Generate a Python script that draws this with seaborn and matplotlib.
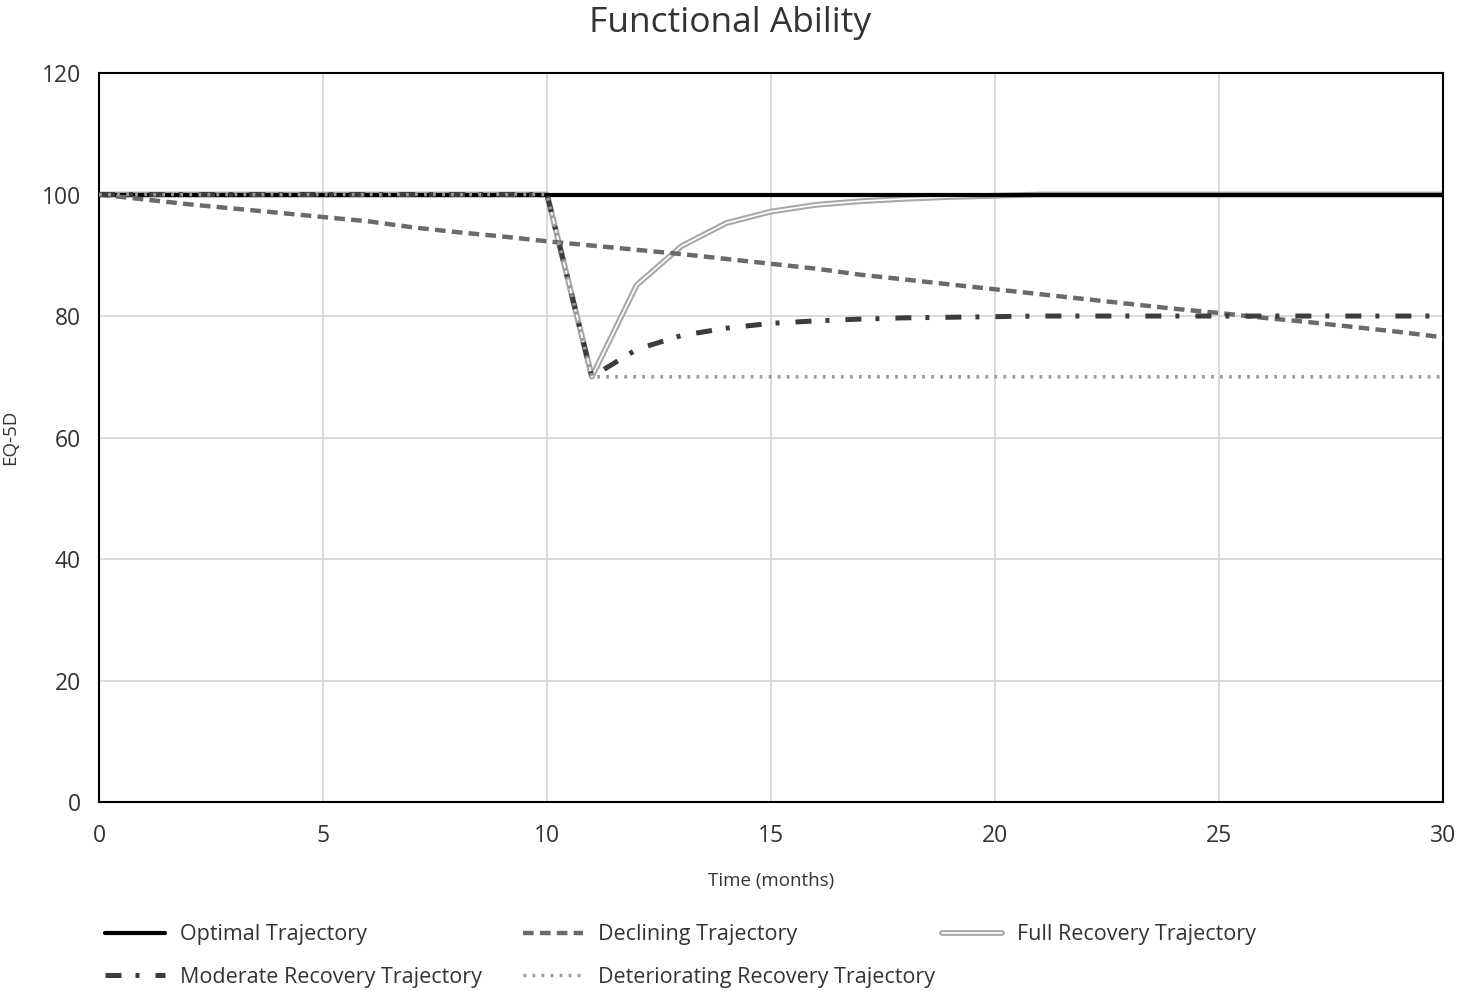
import pandas as pd
import numpy as np
import matplotlib.pyplot as plt
import matplotlib.patheffects as pe
import seaborn as sns

months = list(range(31))

optimal = [100] * 31
declining = [100, 99.2, 98.4, 97.7, 97.0, 96.3, 95.6, 94.6, 93.8, 93.1, 92.3,
             91.6, 90.9, 90.2, 89.4, 88.6, 87.8, 86.8, 86.0, 85.2, 84.4,
             83.6, 82.8, 82.0, 81.2, 80.5, 79.7, 79.0, 78.2, 77.4, 76.5]
full_recovery = [100] * 11 + [70, 85.1, 91.5, 95.3, 97.2, 98.3, 98.9, 99.3, 99.6, 99.8] + [100] * 10
moderate = [100] * 11 + [70, 74.5, 76.8, 78.0, 78.8, 79.2, 79.5, 79.7, 79.8, 79.9] + [80] * 10
deteriorating = [100] * 11 + [70] * 20

sns.set_style("white")
plt.rcParams["font.family"] = ["Open Sans", "DejaVu Sans"]
txt = "#333333"

fig = plt.figure(figsize=(14.61, 9.91), dpi=100)
ax = fig.add_axes([0.0678, 0.1907, 0.9199, 0.7356])

sns.lineplot(x=months, y=optimal, ax=ax, color="black", linewidth=3.0,
             label="Optimal Trajectory", zorder=2.5)
sns.lineplot(x=months, y=declining, ax=ax, color="#6a6a6a", linewidth=3.2,
             linestyle=(0, (2.4, 1.4)), label="Declining Trajectory", zorder=3)
sns.lineplot(x=months, y=full_recovery, ax=ax, color="white", linewidth=1.2,
             label="Full Recovery Trajectory", zorder=2)
sns.lineplot(x=months, y=moderate, ax=ax, color="#3c3c3c", linewidth=3.6,
             linestyle=(0, (3.2, 2.8, 0.8, 3.2)), label="Moderate Recovery Trajectory", zorder=3.5)
sns.lineplot(x=months, y=deteriorating, ax=ax, color="#9a9a9a", linewidth=2.5,
             linestyle=(0, (0.8, 1.8)), label="Deteriorating Recovery Trajectory", zorder=4)

# double line look for full recovery
lines = ax.get_lines()
lines[2].set_path_effects([pe.Stroke(linewidth=4.2, foreground="#a8a8a8"), pe.Normal()])

ax.set_xlim(0, 30)
ax.set_ylim(0, 120)
ax.set_xticks(range(0, 31, 5))
ax.set_yticks(range(0, 121, 20))
ax.grid(True, color="#d4d4d4", linewidth=1.2)
ax.set_axisbelow(True)
for s in ax.spines.values():
    s.set_color("black")
    s.set_linewidth(1.5)
ax.tick_params(axis="both", labelsize=16.5, colors=txt, length=0)
ax.tick_params(axis="x", pad=16)
ax.tick_params(axis="y", pad=13)
ax.set_xlabel("Time (months)", fontsize=13.5, color=txt, labelpad=17)
ax.set_ylabel("EQ-5D", fontsize=13.5, color=txt, labelpad=16)
fig.suptitle("Functional Ability", fontsize=25.5, color=txt, y=0.994)

handles, labels = ax.get_legend_handles_labels()
ax.get_legend().remove()
columns = [([0, 3], 0.0719), ([1, 4], 0.358), ([2], 0.6448)]
for idx, xpos in columns:
    fig.legend([handles[i] for i in idx], [labels[i] for i in idx],
               ncol=1, loc="upper left", bbox_to_anchor=(xpos, 0.0675),
               frameon=False, fontsize=15.5, labelcolor=txt, handlelength=2.8,
               handletextpad=0.7, labelspacing=1.0, borderpad=0, borderaxespad=0)

plt.savefig("out.png", dpi=100)
